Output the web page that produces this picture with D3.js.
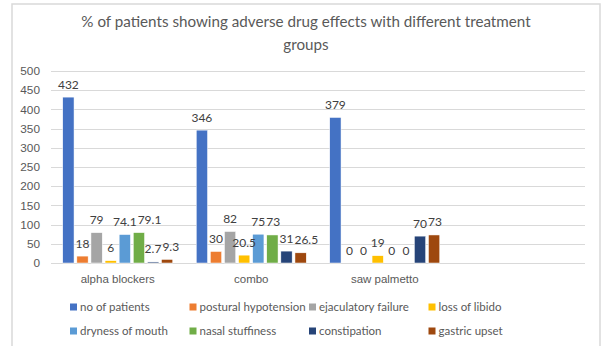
<!DOCTYPE html>
<html>
<head>
<meta charset="utf-8">
<script src="https://cdn.jsdelivr.net/npm/d3@7"></script>
<style>
  html, body { margin: 0; padding: 0; background: #ffffff; }
  svg { display: block; font-family: Lato, "Open Sans", sans-serif; }
</style>
</head>
<body>
<svg id="chart" width="606" height="346"></svg>
<script>
// Treatment groups (a fourth, empty slot keeps Excel's spacing)
const categories = ["alpha blockers", "combo", "saw palmetto", ""];
const seriesNames = ["no of patients", "postural hypotension", "ejaculatory failure", "loss of libido",
                     "dryness of mouth", "nasal stuffiness", "constipation", "gastric upset"];
const seriesColors = ["#4472C4", "#ED7D31", "#A5A5A5", "#FFC000", "#5B9BD5", "#70AD47", "#264478", "#9E480E"];
// Values per treatment group, in series order
const alphaBlockers = [432, 18, 79, 6, 74.1, 79.1, 2.7, 9.3];
const combo = [346, 30, 82, 20.5, 75, 73, 31, 26.5];
const sawPalmetto = [379, 0, 0, 19, 0, 0, 70, 73];
const yTicks = [0, 50, 100, 150, 200, 250, 300, 350, 400, 450, 500];
const titleLines = ["% of patients showing adverse drug effects with different treatment", "groups"];

const groupValues = [alphaBlockers, combo, sawPalmetto];

const svg = d3.select("#chart");

// Outer chart frame
svg.append("rect")
  .attr("x", 12).attr("y", 4)
  .attr("width", 588).attr("height", 360)
  .attr("fill", "#fff")
  .attr("stroke", "#d9d9d9").attr("stroke-width", 1.5);

// Title
svg.append("g").selectAll("text").data(titleLines).join("text")
  .attr("x", 306).attr("y", (d, i) => 27 + i * 23)
  .attr("text-anchor", "middle")
  .attr("font-size", 15.2)
  .attr("fill", "#595959")
  .text(d => d);

const x0 = d3.scaleBand().domain(categories).range([51, 585]).paddingInner(0).paddingOuter(0);
const groupInset = 11.75;
const x1 = d3.scaleBand().domain(seriesNames)
  .range([groupInset, x0.bandwidth() - groupInset])
  .paddingInner(0.2).paddingOuter(0);
const y = d3.scaleLinear().domain([0, 500]).range([263, 71]);

// Horizontal gridlines
svg.append("g").selectAll("line").data(yTicks).join("line")
  .attr("x1", 51).attr("x2", 585)
  .attr("y1", d => Math.round(y(d)) + 0.5).attr("y2", d => Math.round(y(d)) + 0.5)
  .attr("stroke", "#d9d9d9").attr("stroke-width", 1);

// Y axis labels
const yAxis = d3.axisLeft(y).tickValues(yTicks).tickSize(0).tickPadding(0);
const yg = svg.append("g").attr("transform", "translate(40,0)").call(yAxis);
yg.select(".domain").remove();
yg.selectAll("text").attr("font-size", 11.8).attr("fill", "#595959").attr("font-family", null);

// X axis labels
const xAxis = d3.axisBottom(x0).tickSize(0).tickPadding(0);
const xg = svg.append("g").attr("transform", "translate(0,273)").call(xAxis);
xg.select(".domain").remove();
xg.selectAll("text").attr("font-size", 11.5).attr("fill", "#595959").attr("font-family", null).attr("dy", "0.9em");

// Bars
const groups = svg.append("g").selectAll("g")
  .data(groupValues.map((vals, gi) => ({ cat: categories[gi], vals })))
  .join("g")
  .attr("transform", d => `translate(${x0(d.cat)},0)`);

const cells = d => d.vals.map((v, i) => ({ name: seriesNames[i], color: seriesColors[i], value: v }));

groups.selectAll("rect").data(cells).join("rect")
  .attr("x", d => x1(d.name))
  .attr("width", x1.bandwidth())
  .attr("y", d => y(d.value))
  .attr("height", d => y(0) - y(d.value))
  .attr("fill", d => d.color)
  .attr("stroke", "#ffffff").attr("stroke-width", 0.5);

// Value labels, centred over each bar
const labelSize = 12;
groups.each(function () {
  const labels = d3.select(this).selectAll("text").data(cells).join("text")
    .attr("x", d => x1(d.name) + x1.bandwidth() / 2)
    .attr("y", d => y(d.value) - 8.5)
    .attr("text-anchor", "middle")
    .attr("font-size", labelSize)
    .attr("fill", "#404040")
    .text(d => d.value);

  // Nudge a label right when it would collide with an earlier one at a similar height
  const placed = [];
  labels.each(function () {
    const t = d3.select(this);
    const w = this.getComputedTextLength();
    let cx = +t.attr("x");
    const cy = +t.attr("y");
    placed.forEach(p => {
      const vertical = Math.abs(p.cy - cy) < labelSize * 0.9;
      if (vertical && cx - w / 2 < p.right + 1) cx = p.right + 1 + w / 2;
    });
    t.attr("x", cx);
    placed.push({ right: cx + w / 2, cy });
  });
});

// Legend
const legend = svg.append("g").selectAll("g").data(seriesNames).join("g")
  .attr("transform", (d, i) => `translate(${70 + (i % 4) * 119.5},${i < 4 ? 303.5 : 327.5})`);
legend.append("rect")
  .attr("width", 7).attr("height", 7)
  .attr("fill", (d, i) => seriesColors[i]);
legend.append("text")
  .attr("x", 10).attr("y", 7.5)
  .attr("font-size", 11.5)
  .attr("fill", "#595959")
  .text(d => d);
</script>
</body>
</html>
